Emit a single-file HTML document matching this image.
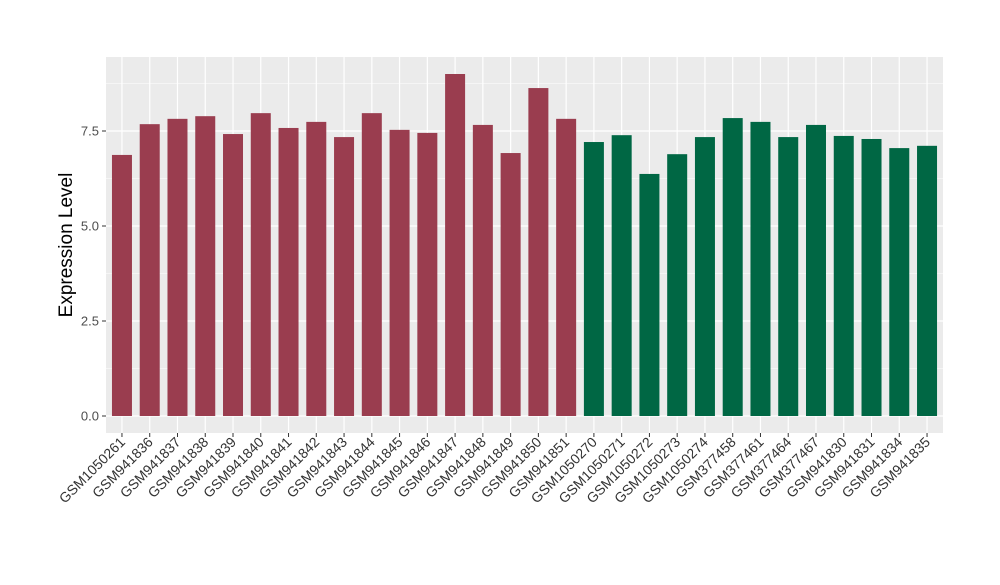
<!DOCTYPE html>
<html><head><meta charset="utf-8"><style>body{margin:0;background:#fff}svg{font-family:"Liberation Sans",sans-serif}</style></head>
<body>
<svg id="c" width="1000" height="580"></svg>
<script>
const categories=["GSM1050261","GSM941836","GSM941837","GSM941838","GSM941839","GSM941840","GSM941841","GSM941842","GSM941843","GSM941844","GSM941845","GSM941846","GSM941847","GSM941848","GSM941849","GSM941850","GSM941851","GSM1050270","GSM1050271","GSM1050272","GSM1050273","GSM1050274","GSM377458","GSM377461","GSM377464","GSM377467","GSM941830","GSM941831","GSM941834","GSM941835"];
const values=[6.87,7.68,7.82,7.89,7.42,7.97,7.58,7.74,7.34,7.97,7.53,7.45,9.0,7.66,6.92,8.63,7.82,7.21,7.39,6.37,6.89,7.34,7.84,7.74,7.34,7.66,7.37,7.29,7.05,7.11];
const groups=[0,0,0,0,0,0,0,0,0,0,0,0,0,0,0,0,0,1,1,1,1,1,1,1,1,1,1,1,1,1];
const yTicks=[0,2.5,5,7.5];
const yTickLabels=["0.0","2.5","5.0","7.5"];
const colors=["#9A3D4F","#006744"];
const ns="http://www.w3.org/2000/svg",svg=document.getElementById('c');
const L=106,R=943,T=57,B=433;
const y=v=>416-v*38;
const step=(R-L)/(categories.length+0.15);
const x=i=>L+step*(0.575+i);
function mk(t,a,p){const e=document.createElementNS(ns,t);for(const k in a)e.setAttribute(k,a[k]);(p||svg).appendChild(e);return e;}
const bg=mk('rect',{x:L,y:T,width:R-L,height:B-T,fill:'#EBEBEB'});


for(let v=1.25;v<10;v+=2.5){if(y(v)>T)mk('line',{x1:L,x2:R,y1:y(v),y2:y(v),stroke:'#fff','stroke-width':0.6});}
yTicks.forEach((v,i)=>{
 mk('line',{x1:L,x2:R,y1:y(v),y2:y(v),stroke:'#fff','stroke-width':1.2});
 mk('line',{x1:L-4,x2:L,y1:y(v),y2:y(v),stroke:'#333'});
 const t=mk('text',{x:L-7,y:y(v)+4.5,'text-anchor':'end','font-size':13,fill:'#4D4D4D'});t.textContent=yTickLabels[i];
 
 
});
categories.forEach((c,i)=>{
 mk('line',{x1:x(i),x2:x(i),y1:T,y2:B,stroke:'#fff','stroke-width':1.2});
});
categories.forEach((c,i)=>{
 const r=mk('rect',{x:x(i)-10,y:y(values[i]),width:20,height:y(0)-y(values[i]),fill:colors[groups[i]]});
 
 
 mk('line',{x1:x(i),x2:x(i),y1:B,y2:B+4,stroke:'#333'});
 const t=mk('text',{x:x(i)+4,y:B+10,'text-anchor':'end','font-size':14,fill:'#333',transform:`rotate(-45 ${x(i)+4} ${B+10})`});t.textContent=c;
 
 
});
const yt=mk('text',{x:72,y:245,'text-anchor':'middle','font-size':19,fill:'#000',transform:'rotate(-90 72 245)'});yt.textContent='Expression Level';


</script>
</body></html>
